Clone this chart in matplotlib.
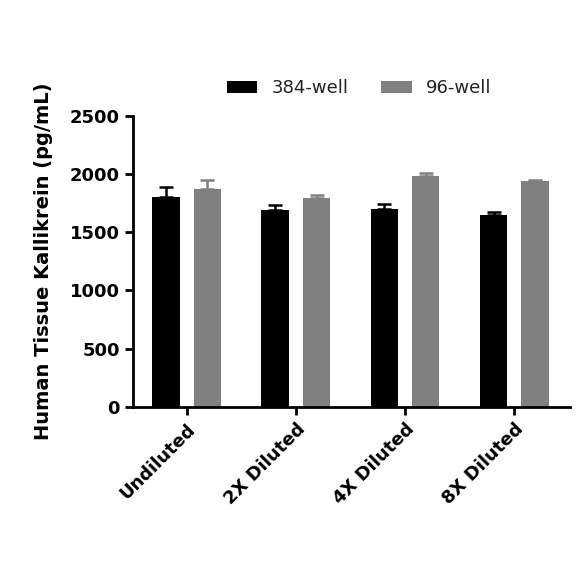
import matplotlib.pyplot as plt
import numpy as np

# data
categories = ["Undiluted", "2X Diluted", "4X Diluted", "8X Diluted"]
well384 = [1805, 1688, 1702, 1648]
well384_err = [83, 43, 43, 26]
well96 = [1870, 1790, 1985, 1940]
well96_err = [80, 29, 26, 12]

x = np.arange(len(categories))
w = 0.25
off = 0.19

fig = plt.figure(figsize=(5.84, 5.84), dpi=100)
ax = fig.add_axes([0.228, 0.303, 0.748, 0.499])

ax.bar(x - off, well384, w, color="black", label="384-well")
ax.bar(x + off, well96, w, color="#808080", label="96-well")
ax.errorbar(x - off, well384, yerr=[np.zeros(4), well384_err], fmt="none",
            ecolor="black", elinewidth=1.8, capsize=5, capthick=1.8)
ax.errorbar(x + off, well96, yerr=[np.zeros(4), well96_err], fmt="none",
            ecolor="#808080", elinewidth=1.8, capsize=5, capthick=1.8)

ax.set_xlim(-0.49, 3.51)
ax.set_ylim(0, 2500)
ax.set_yticks([0, 500, 1000, 1500, 2000, 2500])
ax.set_xticks(x)
ax.set_xticklabels(categories, rotation=45, ha="right", rotation_mode="anchor",
                   fontsize=13, fontweight="bold")
for lab in ax.get_yticklabels():
    lab.set_fontsize(13)
    lab.set_fontweight("bold")
ax.set_ylabel("Human Tissue Kallikrein (pg/mL)", fontsize=14, fontweight="bold", labelpad=12)

for s in ["top", "right"]:
    ax.spines[s].set_visible(False)
for s in ["left", "bottom"]:
    ax.spines[s].set_linewidth(2)
ax.tick_params(width=2, length=6, direction="out")

fig.legend(loc="center", bbox_to_anchor=(0.615, 0.849), ncol=2, frameon=False,
           fontsize=13, handlelength=1.7, handleheight=0.7, columnspacing=1.8,
           labelcolor="#222222")

plt.savefig("out.png", dpi=100)
